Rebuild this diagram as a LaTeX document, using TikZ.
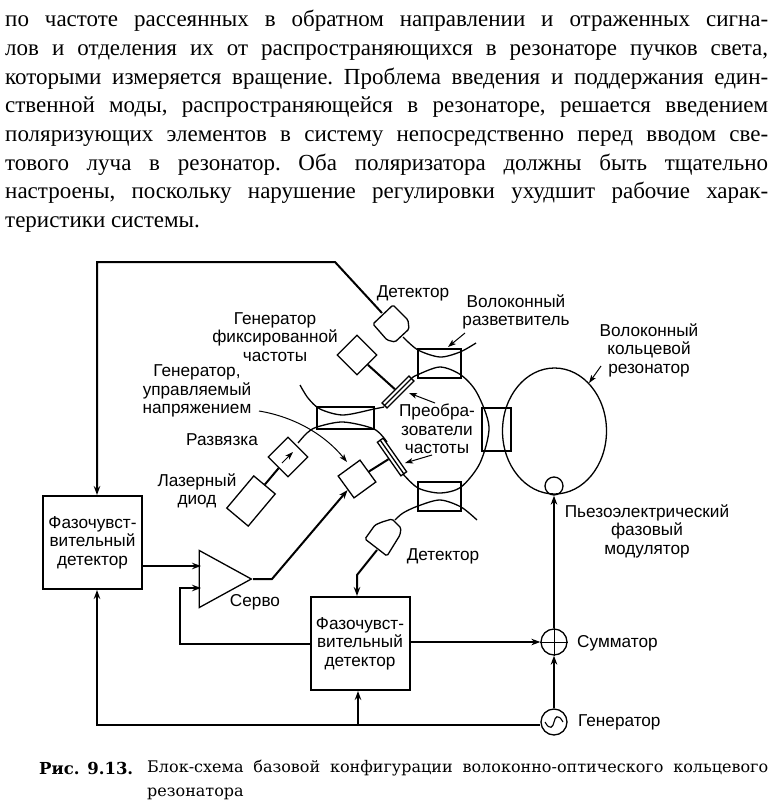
\documentclass[tikz,border=0pt]{standalone}
\usepackage{fontspec}
\setmainfont{Liberation Serif}
\newfontfamily\labelfont{Liberation Sans}
\newfontfamily\capfont{DejaVu Serif}
\usetikzlibrary{arrows.meta,shapes.geometric}
\tikzset{
  >={Stealth[length=9pt,width=6.5pt,inset=3pt]},
  lbl/.style={align=center, inner sep=0pt, font=\labelfont\fontsize{17.2}{18.5}\selectfont},
  block/.style={rectangle, draw, line width=2pt, minimum width=99pt, minimum height=93pt, inner sep=0pt},
  coupler/.style={rectangle, draw, line width=1.3pt, inner sep=0pt},
  unit/.style={rectangle, draw, line width=1.3pt, inner sep=0pt},
  aom/.style={rectangle, draw, line width=1.3pt, inner sep=0pt, minimum height=7pt},
  ring/.style={circle, draw, line width=1.3pt, inner sep=0pt},
  fibre/.style={line width=1.3pt},
  wire/.style={line width=2pt},
  arr/.style={->, line width=2pt},
  note/.style={->, line width=1pt, >={Stealth[length=8pt,width=5.5pt,inset=2pt]}}
}
\begin{document}
\begin{tikzpicture}[x=1pt,y=-1pt]
  \useasboundingbox (0,0) rectangle (778,811);
  % text above the figure
  \node[anchor=north west, inner sep=0pt, text width=763pt, align=justify,
    font=\frenchspacing\fontsize{23}{28.7}\selectfont] (para) at (5,10) {
    по частоте рассеянных в обратном направлении и отраженных сигна-\linebreak
    лов и отделения их от распространяющихся в резонаторе пучков света,\linebreak
    которыми измеряется вращение. Проблема введения и поддержания един-\linebreak
    ственной моды, распространяющейся в резонаторе, решается введением\linebreak
    поляризующих элементов в систему непосредственно перед вводом све-\linebreak
    тового луча в резонатор. Оба поляризатора должны быть тщательно\linebreak
    настроены, поскольку нарушение регулировки ухудшит рабочие харак-\linebreak
    теристики системы.};

  % blocks
  \node[block] (phdetl) at (92.5,542.5) {};
  \node[block] (phdetr) at (360,643.5) {};
  \node[draw, line width=1.3pt, isosceles triangle, isosceles triangle stretches, inner sep=0pt,
    minimum width=57pt, minimum height=52pt, anchor=apex] (servo) at (253,579) {};
  \node[unit, minimum width=42pt, minimum height=28pt, rotate=50] (laser) at (251,501) {};
  \node[unit, minimum width=28pt, minimum height=28pt, rotate=45] (isol) at (288,457) {};
  \node[unit, minimum width=28pt, minimum height=28pt, rotate=45] (fixgen) at (357,355) {};
  \node[unit, minimum width=27pt, minimum height=27pt, rotate=36] (vco) at (357,479) {};
  \node[aom, minimum width=38pt, rotate=45] (aomt) at (398,392) {};
  \node[aom, minimum width=41pt, rotate=-55] (aomb) at (392,457) {};
  \node[coupler, minimum width=43pt, minimum height=29pt] (cplt) at (439.5,363.5) {};
  \node[coupler, minimum width=43pt, minimum height=29pt] (cplb) at (439.5,496.5) {};
  \node[coupler, minimum width=57pt, minimum height=22pt] (cpll) at (345.5,418) {};
  \node[coupler, minimum width=29pt, minimum height=43pt] (cplr) at (496.5,429.5) {};
  \node[draw, ellipse, line width=1.3pt, inner sep=0pt, minimum width=104pt, minimum height=126pt] (resn) at (554.5,431) {};
  \node[ring, minimum size=18pt] (pzt) at (554,486) {};
  \node[ring, minimum size=26pt] (sumr) at (554,642) {};
  \node[ring, minimum size=26pt] (gen) at (554,722) {};

  % detectors
  \draw[line width=1.3pt, rounded corners=1.5pt] (393,305) -- (408,320) -- (409,329) -- (395,342) -- (387,340) -- (373,324) -- cycle;
  \draw[line width=1.3pt, rounded corners=1.5pt] (401,528) -- (400,535) -- (387,556) -- (365,539) -- (375,525) -- (382,522) -- (392,519) -- cycle;
  \coordinate (dett) at (382,313);
  \coordinate (detb) at (377,550);

  % fibre
  \draw[fibre] plot[smooth] coordinates {(403,337) (418,350) (440,357) (460,352) (476,343)};
  \draw[fibre] plot[smooth] coordinates {(412,378) (417,375) (440,367) (461,375) (477,393) (489,427) (480,463) (461,487) (440,493) (418,488) (403,474)};
  \draw[fibre] plot[smooth] coordinates {(300,385) (308,398) (320,409) (343,415) (374,409) (384,407)};
  \draw[fibre] plot[smooth] coordinates {(298,443) (307,433) (317,427) (343,422) (374,429) (387,442)};
  \draw[fibre] plot[smooth] coordinates {(395,520) (403,513) (418,506) (440,500) (461,507) (477,520)};
  \draw[fibre] (aomt.west) -- (aomt.east);
  \draw[fibre] (aomb.west) -- (aomb.east);

  % links
  \draw[wire] (laser) -- (isol);
  \draw[wire] (fixgen) -- (aomt);
  \draw[wire] (vco) -- (aomb);
  \draw[note] (282,463) -- (293,452);
  \coordinate (servoa) at (servo.lower side |- 0,566);
  \coordinate (servob) at (servo.lower side |- 0,588);
  \draw[arr] (phdetl.east |- servoa) -- (201,566);
  \draw[arr] (phdetr.west |- 0,644) -- (180,644) -- (180,588) -- (201,588);
  \draw[arr] (servo.apex) -- (272,579) -- (vco);
  \draw[arr] (dett) -- (335,262) -- (97,262) -- (phdetl.north -| 97,0);
  \draw[arr] (detb) -- (357,575) -- (phdetr.north -| 357,0);
  \draw[arr] (gen.west |- 0,725) -- (97,725) -- (phdetl.south -| 97,0);
  \draw[arr] (358,725) -- (phdetr.south -| 358,0);
  \draw[arr] (phdetr.east |- 0,642) -- (sumr.west);
  \draw[arr] (sumr) -- (pzt);
  \draw[arr] (gen) -- (sumr);
  \draw[line width=1pt] (sumr.north) -- (sumr.south) (sumr.west) -- (sumr.east);
  \draw[line width=1.1pt] ([xshift=-9pt]gen.center) .. controls ([xshift=-4pt,yshift=-9pt]gen.center) and ([xshift=-1pt,yshift=-5pt]gen.center) .. (gen.center)
    .. controls ([xshift=1pt,yshift=5pt]gen.center) and ([xshift=4pt,yshift=9pt]gen.center) .. ([xshift=9pt]gen.center);

  % labels
  \node[lbl] (ldett) at (413,293) {Детектор};
  \node[lbl] (lcpl) at (516,312) {Волоконный\\разветвитель};
  \node[lbl] (lfix) at (275,337) {Генератор\\фиксированной\\частоты};
  \node[lbl] (lvco) at (197,391) {Генератор,\\управляемый\\напряжением};
  \node[lbl] (liso) at (222,440) {Развязка};
  \node[lbl] (llas) at (197,491) {Лазерный\\диод};
  \node[lbl] (laom) at (437,429) {Преобра-\\зователи\\частоты};
  \node[lbl] (tdetl) at (phdetl) {Фазочувст-\\вительный\\детектор};
  \node[lbl] (tdetr) at (phdetr) {Фазочувст-\\вительный\\детектор};
  \node[lbl] (lsrv) at (255,602) {Серво};
  \node[lbl] (ldetb) at (443,556) {Детектор};
  \node[lbl] (lres) at (649,350) {Волоконный\\кольцевой\\резонатор};
  \node[lbl] (lpzt) at (647,531) {Пьезоэлектрический\\фазовый\\модулятор};
  \node[lbl, anchor=west] (lsum) at (577,643) {Сумматор};
  \node[lbl, anchor=west] (lgen) at (578,722) {Генератор};

  % pointers
  \draw[note] (465,333) -- (448,347);
  \draw[note] (435,403) -- (409,393);
  \draw[note] (432,455) -- (405,463);
  \draw[note] (601,366) -- (589,383);
  \draw[note] (259,411) .. controls (295,417) and (325,435) .. (347,462);

  % caption
  \node[anchor=west, inner sep=0pt, font=\capfont\bfseries\fontsize{16.5}{18}\selectfont] (capnum) at (39,768) {Рис. 9.13.};
  \node[anchor=north west, inner sep=0pt, text width=621pt, align=justify, font=\capfont\fontsize{16}{24}\selectfont] (captxt) at (147,760)
    {Блок-схема базовой конфигурации волоконно-оптического кольцевого\linebreak резонатора};
\end{tikzpicture}
\end{document}
